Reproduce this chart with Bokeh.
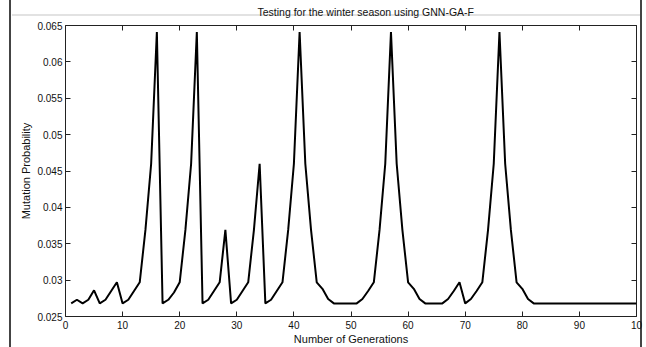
from bokeh.plotting import figure
from bokeh.models import LinearAxis, FixedTicker, CustomLabelingPolicy
from bokeh.embed import file_html
from bokeh.resources import INLINE

# ---- data ----
generations = list(range(1, 101))
mutation_probability = [
    0.0268, 0.0273, 0.0268, 0.0273, 0.0286, 0.0268, 0.0273, 0.0285, 0.0297, 0.0268,
    0.0273, 0.0285, 0.0297, 0.0369, 0.0460, 0.0641, 0.0268, 0.0273, 0.0283, 0.0297,
    0.0369, 0.0460, 0.0641, 0.0268, 0.0273, 0.0285, 0.0297, 0.0369, 0.0268, 0.0273,
    0.0285, 0.0297, 0.0369, 0.0460, 0.0268, 0.0273, 0.0285, 0.0297, 0.0369, 0.0460,
    0.0641, 0.0460, 0.0369, 0.0297, 0.0288, 0.0274, 0.0268, 0.0268, 0.0268, 0.0268,
    0.0268, 0.0274, 0.0285, 0.0297, 0.0369, 0.0460, 0.0641, 0.0460, 0.0369, 0.0297,
    0.0288, 0.0274, 0.0268, 0.0268, 0.0268, 0.0268, 0.0274, 0.0285, 0.0297, 0.0268,
    0.0274, 0.0285, 0.0297, 0.0369, 0.0460, 0.0641, 0.0460, 0.0369, 0.0297, 0.0288,
    0.0274, 0.0268, 0.0268, 0.0268, 0.0268, 0.0268, 0.0268, 0.0268, 0.0268, 0.0268,
    0.0268, 0.0268, 0.0268, 0.0268, 0.0268, 0.0268, 0.0268, 0.0268, 0.0268, 0.0268,
]
x_ticks = [0, 10, 20, 30, 40, 50, 60, 70, 80, 90, 100]
x_tick_labels = ["0", "10", "20", "30", "40", "50", "60", "70", "80", "90", "10"]
y_ticks = [0.025, 0.03, 0.035, 0.04, 0.045, 0.05, 0.055, 0.06, 0.065]
y_tick_labels = ["0.025", "0.03", "0.035", "0.04", "0.045", "0.05", "0.055", "0.06", "0.065"]
title_text = "Testing for the winter season using GNN-GA-F"
x_label = "Number of Generations"
y_label = "Mutation Probability"

FONT = "Liberation Sans"

p = figure(width=646, height=347, x_range=(0, 100), y_range=(0.025, 0.065),
           output_backend="svg", toolbar_location=None,
           min_border_left=65, min_border_right=10, min_border_top=22, min_border_bottom=31)

p.title.text = title_text
p.title.align = "left"
p.title.offset = 192
p.title.text_font = FONT
p.title.text_font_size = "10.5px"
p.title.text_font_style = "normal"
p.title.text_color = "#111111"
p.title.standoff = 7

p.border_fill_color = None
p.background_fill_color = "white"
p.outline_line_color = "#222222"
p.outline_line_width = 1
p.grid.visible = False
p.styles = {
    "background": (
        "linear-gradient(#444,#444) 9px 0/2px 100% no-repeat, "
        "linear-gradient(#444,#444) 640px 0/2px 100% no-repeat, "
        "linear-gradient(#e2e2e2,#e2e2e2) 12px 14px/628px 2px no-repeat, #ffffff"
    )
}

def style_axis(ax, ticks, overrides, show_labels=True):
    ax.ticker = FixedTicker(ticks=ticks)
    ax.major_label_overrides = {t: s for t, s in zip(ticks, overrides)}
    ax.major_tick_in = 5
    ax.major_tick_out = 0
    ax.minor_tick_line_color = None
    ax.axis_line_color = None
    ax.major_tick_line_color = "#222222"
    ax.major_label_text_font = FONT
    ax.major_label_text_font_size = "10px"
    ax.major_label_text_color = "#111111"
    ax.axis_label_text_font = FONT
    ax.axis_label_text_font_size = "11px"
    ax.axis_label_text_font_style = "normal"
    ax.axis_label_text_color = "#111111"
    if not show_labels:
        ax.major_label_text_font_size = "1px"
        ax.major_label_policy = CustomLabelingPolicy(
            code="for (const i of indices) { if (i < 0) { yield i } }")

xa = p.xaxis[0]
style_axis(xa, x_ticks, x_tick_labels)
xa.major_label_standoff = 4
xa.axis_label = x_label
xa.axis_label_standoff = 1

ya = p.yaxis[0]
style_axis(ya, y_ticks, y_tick_labels)
ya.major_label_standoff = 3
ya.axis_label = y_label
ya.axis_label_standoff = 2

top = LinearAxis()
style_axis(top, x_ticks, x_tick_labels, show_labels=False)
top.major_label_standoff = 0
p.add_layout(top, "above")

right = LinearAxis()
style_axis(right, y_ticks, y_tick_labels, show_labels=False)
right.major_label_standoff = 0
p.add_layout(right, "right")

p.line(generations, mutation_probability, line_color="black", line_width=2)

open("out.html", "w").write(file_html(p, INLINE))
